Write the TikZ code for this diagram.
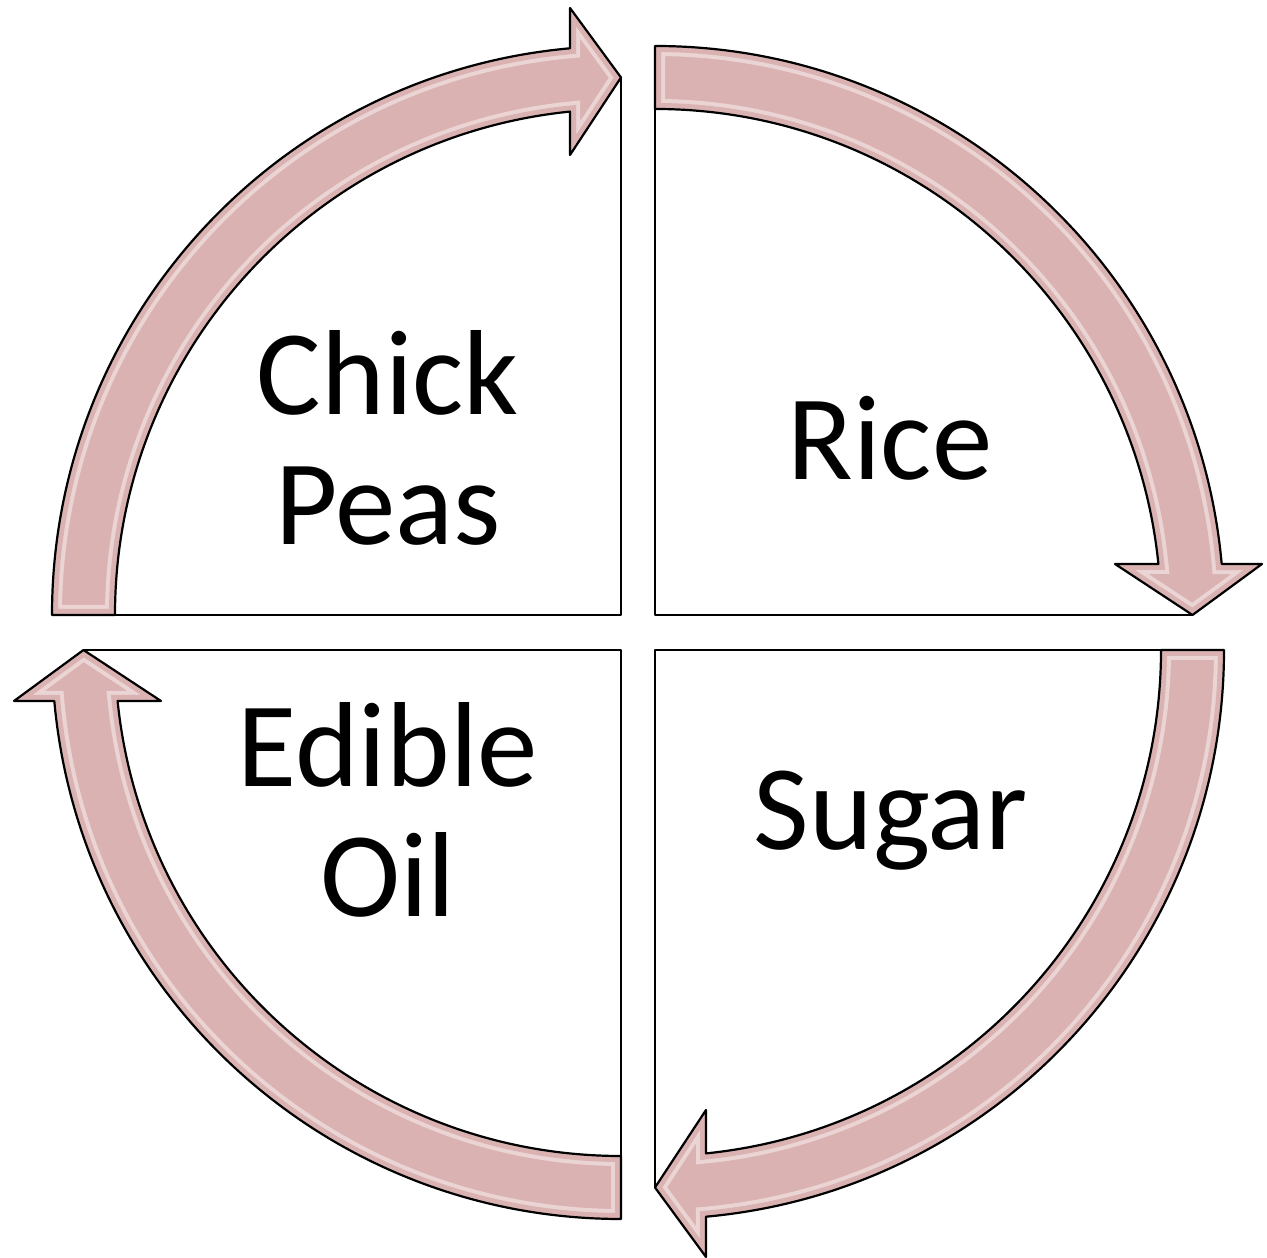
\documentclass[tikz,border=0pt]{standalone}
\usepackage{fontspec}
\setmainfont{Carlito}
\definecolor{arrowpink}{RGB}{219,178,178}
\def\qpath{(-569,0) arc[start angle=180, end angle=95.142, radius=569] -- (-51,607) -- (0,537.5) -- (-51,460) -- (-51,503.4) arc[start angle=95.785, end angle=180, radius=506] -- cycle}
\newcommand\quadpiece[2]{%
  \begin{scope}[shift={#1}, rotate=#2]
    \fill[arrowpink] \qpath;
    \begin{scope}
      \clip \qpath;
      \draw[white, opacity=.45, line width=20] \qpath;
      \draw[arrowpink, line width=12] \qpath;
    \end{scope}
    \draw[outline] \qpath;
    \draw[outline] (-506,0) -- (0,0) -- (0,537.5);
  \end{scope}}
\begin{document}
\begin{tikzpicture}[x=1pt, y=1pt,
  outline/.style={draw=black, line width=2.2, line join=round},
  lbl/.style={anchor=base, inner sep=0, text width=520, align=center,
    font=\fontsize{121}{130}\selectfont}]
  \fill[white] (0,0) rectangle (1267,1258);
  \useasboundingbox (0,0) rectangle (1267,1258);
  \quadpiece{(621,643)}{0}
  \quadpiece{(655,643)}{-90}
  \quadpiece{(655,608)}{180}
  \quadpiece{(621,608)}{90}
  \node[lbl] (chick) at (388,843) {Chick\\Peas};
  \node[lbl] (rice) at (890,778) {Rice};
  \node[lbl] (sugar) at (891,408) {Sugar};
  \node[lbl] (oil) at (388,471) {Edible\\Oil};
\end{tikzpicture}
\end{document}
